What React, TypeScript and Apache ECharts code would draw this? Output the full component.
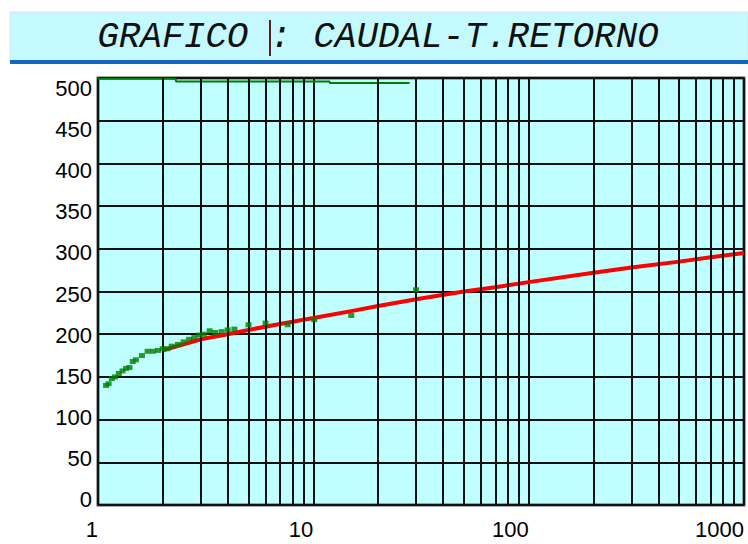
import React, { useEffect, useRef } from 'react';
import * as echarts from 'echarts';

// Observed points (green): return period T (years) vs discharge
const obsX = [1.09, 1.12, 1.16, 1.2, 1.25, 1.3, 1.35, 1.4, 1.45, 1.5, 1.6, 1.7, 1.8, 1.9, 2.0, 2.1, 2.2, 2.35, 2.5, 2.65, 2.8, 2.95, 3.1, 3.3, 3.5, 3.75, 4.0, 4.3, 5.0, 6.0, 7.6, 10.1, 15, 30];
const obsY = [140, 142, 148, 150, 154, 157, 160, 161, 168, 170, 175, 180, 180, 181, 183, 183, 186, 188, 191, 194, 196, 199, 200, 204, 202, 203, 205, 206, 211, 213, 211, 217, 222, 252];

// Fitted curve (red)
const fitX = [2, 2.5, 3, 4, 5, 7, 10, 15, 20, 30, 50, 70, 100, 200, 300, 500, 700, 1000];
const fitY = [181, 188, 194, 200, 205, 212, 219, 227, 233, 241, 250, 255, 261, 272, 278, 285, 290, 295];

// Upper green step line near 500
const topX = [1, 2.3, 2.3, 11.9, 11.9, 28];
const topY = [499, 499, 496, 496, 494, 494];

// Minor vertical grid positions on the log axis
const minorX = [2, 3, 4, 5, 6, 7, 8, 9, 20, 30, 40, 50, 60, 70, 80, 90, 200, 300, 400, 500, 600, 700, 800, 900];

const titleText = 'GRAFICO : CAUDAL-T.RETORNO';

export default function App() {
  const ref = useRef<HTMLDivElement>(null);
  useEffect(() => {
    document.body.style.margin = '0';
    const chart = echarts.init(ref.current!, null, { renderer: 'svg' });
    const option: any = {
      animation: false,
      backgroundColor: '#ffffff',
      graphic: [
        { type: 'rect', shape: { x: 10, y: 12, width: 738, height: 49 }, style: { fill: '#C4FAFF', stroke: '#d8e4e8', lineWidth: 1 }, z: 0 },
        { type: 'rect', shape: { x: 10, y: 60, width: 738, height: 4 }, style: { fill: '#1068C0' }, z: 1 },
        { type: 'text', x: 378, y: 37, style: { text: titleText, font: 'italic 36px "Liberation Mono"', fill: '#111', textAlign: 'center', textVerticalAlign: 'middle' }, z: 2 },
        { type: 'line', shape: { x1: 270, y1: 20, x2: 270, y2: 56 }, style: { stroke: '#5a2020', lineWidth: 2 }, z: 2 },
      ],
      grid: [
        { left: 98, top: 78, right: 4, bottom: 39, show: true, backgroundColor: '#C0FFFF', borderColor: '#555', borderWidth: 3 },
        { left: 98, top: 88.5, right: 4, bottom: 44.5, show: false },
      ],
      xAxis: [
        {
          type: 'log', logBase: 10, min: 1, max: 1000, gridIndex: 0,
          axisLine: { show: false }, axisTick: { show: false },
          axisLabel: { fontSize: 22, fontFamily: 'Arial', color: '#000', align: 'right', margin: 13, showMinLabel: true, showMaxLabel: true, formatter: (v: number) => String(Math.round(v)) },
          splitLine: { show: true, lineStyle: { color: '#111', width: 2 } },
        },
        { type: 'value', gridIndex: 1, show: false, min: 0, max: 1 },
      ],
      yAxis: [
        {
          type: 'value', min: 0, max: 500, interval: 50, gridIndex: 0,
          axisLine: { show: false }, axisTick: { show: false }, axisLabel: { show: false },
          splitLine: { show: true, lineStyle: { color: '#111', width: 2 } },
        },
        {
          type: 'value', min: 0, max: 500, interval: 50, gridIndex: 1,
          axisLine: { show: false }, axisTick: { show: false }, splitLine: { show: false },
          axisLabel: { fontSize: 22, fontFamily: 'Arial', color: '#000', margin: 6 },
        },
      ],
      series: [
        {
          type: 'line', xAxisIndex: 0, yAxisIndex: 0, data: [], z: 1, silent: true,
          markLine: {
            silent: true, symbol: ['none', 'none'], label: { show: false },
            lineStyle: { color: '#111', width: 2, type: 'solid' },
            emphasis: { disabled: true },
            data: minorX.map((v) => ({ xAxis: v })),
          },
        },
        {
          type: 'line', xAxisIndex: 0, yAxisIndex: 0, z: 3, symbol: 'none',
          lineStyle: { color: '#008000', width: 2 },
          data: topX.map((x, i) => [x, topY[i]]),
        },
        {
          type: 'line', xAxisIndex: 0, yAxisIndex: 0, z: 4, symbol: 'none',
          lineStyle: { color: '#FF0000', width: 4 },
          data: fitX.map((x, i) => [x, fitY[i]]),
        },
        {
          type: 'scatter', xAxisIndex: 0, yAxisIndex: 0, z: 5, symbol: 'rect', symbolSize: [6, 5],
          itemStyle: { color: '#008000' },
          data: obsX.map((x, i) => [x, obsY[i]]),
        },
      ],
    };
    chart.setOption(option);
    return () => chart.dispose();
  }, []);
  return <div ref={ref} style={{ width: 748, height: 544, position: 'absolute', left: 0, top: 0 }} />;
}
